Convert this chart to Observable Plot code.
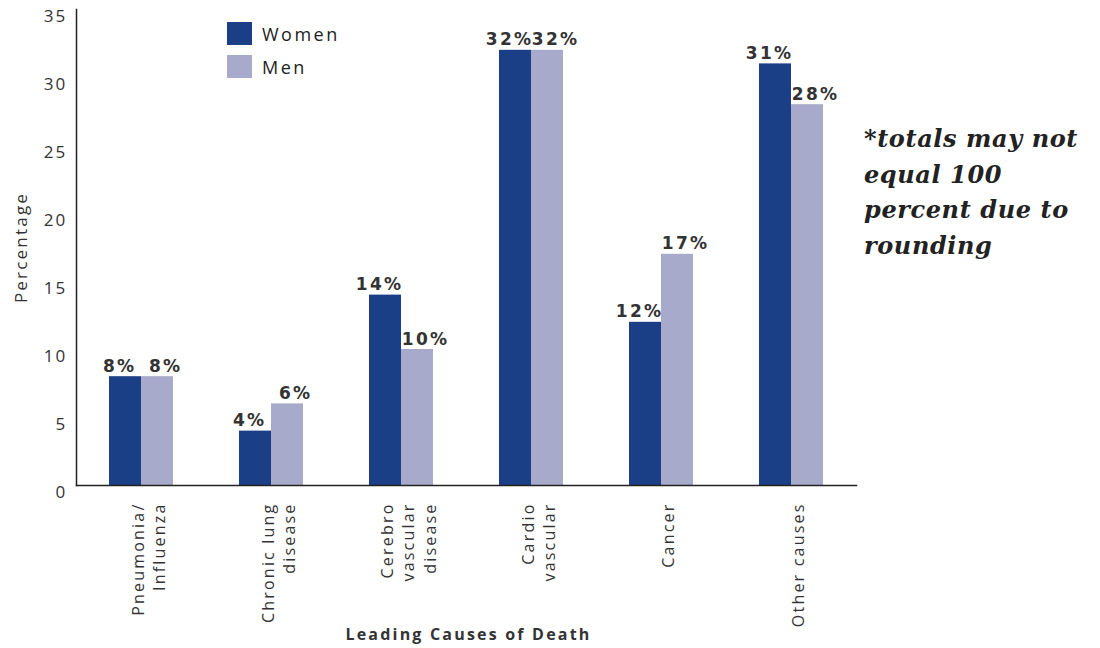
<!DOCTYPE html>
<html>
<head>
<meta charset="utf-8">
<script src="https://cdn.jsdelivr.net/npm/d3@7"></script>
<script src="https://cdn.jsdelivr.net/npm/@observablehq/plot@0.6"></script>
<style>
  html, body { margin: 0; padding: 0; background: #fff; }
  #wrap { position: relative; width: 1100px; height: 648px; overflow: hidden; font-family: "Open Sans", sans-serif; }
  #legend { position: absolute; left: 227px; top: 17px; }
  .item { display: flex; align-items: center; height: 33px; font-size: 18px; letter-spacing: 2.5px; color: #222; }
  .sw { width: 25px; height: 23px; margin-right: 10px; }
  #note { position: absolute; left: 864px; top: 121px; font-family: "DejaVu Serif", serif; font-weight: bold; font-style: italic; font-size: 24px; letter-spacing: 0.6px; line-height: 35.5px; color: #222; }
</style>
</head>
<body>
<div id="wrap">
  <div id="chart"></div>
  <div id="legend"></div>
  <div id="note">*totals may not<br>equal 100<br>percent due to<br>rounding</div>
</div>
<script>
const causes = ["Pneumonia/\nInfluenza", "Chronic lung\ndisease", "Cerebro\nvascular\ndisease", "Cardio\nvascular", "Cancer", "Other causes"];
const sexes = ["Women", "Men"];
const women = [8, 4, 14, 32, 12, 31];
const men = [8, 6, 10, 32, 17, 28];
const yTicks = [0, 5, 10, 15, 20, 25, 30, 35];
const colors = ["#1b3f86", "#a7aaca"];

const data = [];
causes.forEach((c, i) => {
  data.push({cause: c, sex: "Women", value: women[i]});
  data.push({cause: c, sex: "Men", value: men[i]});
});

const labelStyle = {fx: "cause", x: "sex", y: "value", text: d => d.value + "%", lineAnchor: "bottom", dy: -5,
  fontSize: 17, fontWeight: "bold", fontFamily: "'DejaVu Sans', sans-serif", letterSpacing: "0.2px", fill: "#333"};

const chart = Plot.plot({
  width: 1100,
  height: 648,
  marginTop: 9,
  marginBottom: 163,
  marginLeft: 74,
  marginRight: 243,
  style: {fontFamily: "'Open Sans', sans-serif", color: "#333", letterSpacing: "2.2px"},
  fx: {domain: causes, padding: 0, label: null},
  x: {domain: sexes, paddingInner: 0, paddingOuter: 1, axis: null},
  y: {domain: [0, 35]},
  color: {domain: sexes, range: colors},
  marks: [
    Plot.barY(data, {fx: "cause", x: "sex", y: "value", fill: "sex"}),
    Plot.text(data.filter(d => d.sex === "Women"), {...labelStyle, dx: -6}),
    Plot.text(data.filter(d => d.sex === "Men"), {...labelStyle, dx: 8}),
    Plot.axisY({ticks: yTicks, tickSize: 0, tickPadding: 9, dy: 7, fontSize: 17, fill: "#333",
      label: "Percentage", labelAnchor: "center", labelArrow: "none", labelOffset: 62}),
    Plot.axisFx({anchor: "bottom", tickSize: 0, tickRotate: -90, tickPadding: 17, dx: 6, fontSize: 16, fill: "#333", lineHeight: 1.35, label: null}),
    Plot.frame({anchor: "left", facet: "super", stroke: "#222", strokeWidth: 1.5}),
    Plot.frame({anchor: "bottom", facet: "super", stroke: "#222", strokeWidth: 1.5})
  ]
});
document.getElementById("chart").appendChild(chart);

// x-axis title
d3.select(chart).append("text")
  .attr("x", (74 + 857) / 2 + 3)
  .attr("y", 640)
  .attr("text-anchor", "middle")
  .attr("font-size", 16)
  .attr("font-weight", "bold")
  .attr("fill", "#333")
  .text("Leading Causes of Death");

const legend = document.getElementById("legend");
sexes.forEach((s, i) => {
  const item = document.createElement("div");
  item.className = "item";
  item.innerHTML = `<div class="sw" style="background:${colors[i]}"></div><span>${s}</span>`;
  legend.appendChild(item);
});
</script>
</body>
</html>
